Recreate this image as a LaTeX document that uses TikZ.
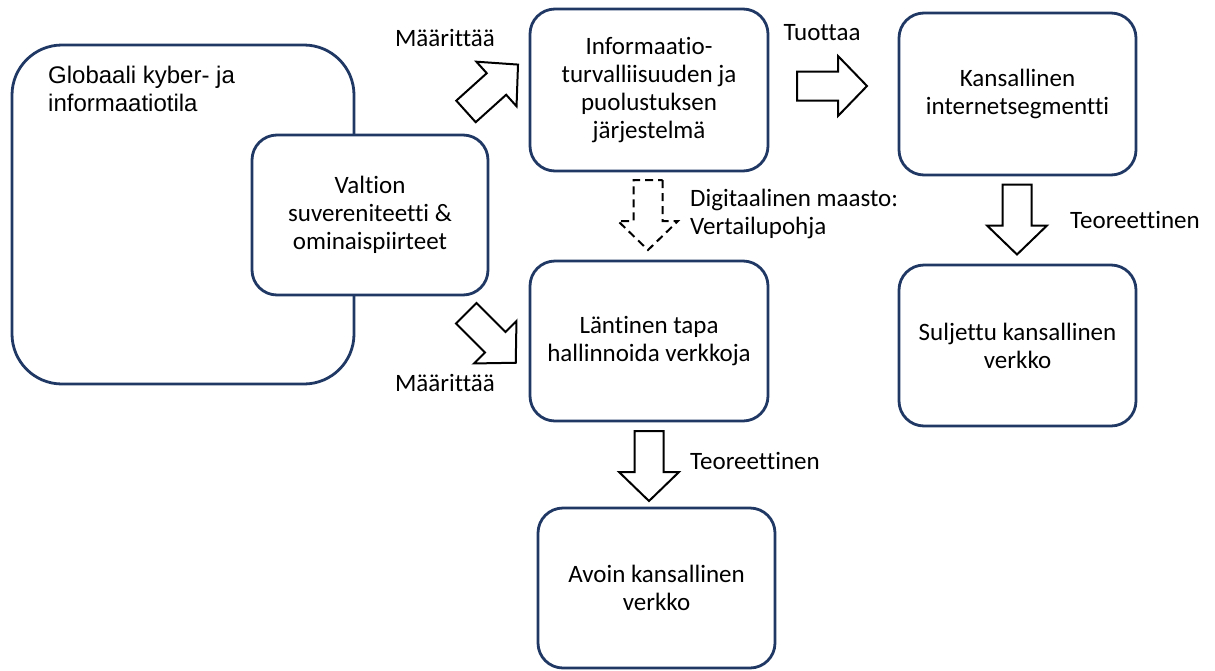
\documentclass[tikz,border=0pt]{standalone}
\usepackage{fontspec}
\setmainfont{Carlito}[Ligatures=CommonOff]
\newfontfamily\arialfont{Liberation Sans}
\definecolor{boxblue}{RGB}{31,56,100}
\tikzset{
  box/.style={draw=boxblue, line width=2.8pt, rounded corners=25pt, fill=white,
    align=center, inner sep=0pt, font=\fontsize{25}{28}\selectfont},
  lbl/.style={inner sep=0pt, font=\fontsize{25}{28}\selectfont},
  barrow/.style={draw=black, line width=2pt, fill=white, line join=miter},
  blockarrow/.pic={
    \path[barrow, pic actions] (-35,-14.5) -- (6,-14.5) -- (6,-30) -- (35,0) -- (6,30) -- (6,14.5) -- (-35,14.5) -- cycle;
  }
}
\begin{document}
\begin{tikzpicture}[x=1pt, y=-1pt]
\useasboundingbox (0,0) rectangle (1215,670);
% global box
\node[draw=boxblue, line width=2.8pt, rounded corners=50pt, minimum width=342pt, minimum height=339pt, inner sep=0pt] (glob) at (183,214.5) {};
\node[anchor=north west, align=left, inner sep=0pt, font=\arialfont\fontsize{24}{28}\selectfont] (globt) at (48,66) {Globaali kyber- ja\\informaatiotila};
% boxes
\node[box, minimum width=236pt, minimum height=160pt] (valt) at (370,215) {Valtion\\suvereniteetti \&\\ominaispiirteet};
\node[box, minimum width=238pt, minimum height=162pt] (info) at (649,90) {Informaatio-\\turvalliisuuden ja\\puolustuksen\\järjestelmä};
\node[box, minimum width=237pt, minimum height=162pt] (kans) at (1017.5,94) {Kansallinen\\internetsegmentti};
\node[box, minimum width=238pt, minimum height=160pt] (lant) at (649,341) {Läntinen tapa\\hallinnoida verkkoja};
\node[box, minimum width=237pt, minimum height=161pt] (sulj) at (1017.5,345.5) {Suljettu kansallinen\\verkko};
\node[box, minimum width=237pt, minimum height=160pt] (avoin) at (656.5,588) {Avoin kansallinen\\verkko};
% block arrows
\pic[rotate=42] at (492,88) {blockarrow};
\pic[rotate=-45] at (491,338) {blockarrow};
\pic at (832,86) {blockarrow};
\pic[rotate=-90] at (1017,219.5) {blockarrow};
\pic[rotate=-90] at (649,466) {blockarrow};
\pic[rotate=-90, dash pattern=on 8pt off 5pt] at (648,215) {blockarrow};
% labels
\node[lbl] (m1) at (445,38) {Määrittää};
\node[lbl] (m2) at (445,383) {Määrittää};
\node[lbl] (tuo) at (822,33) {Tuottaa};
\node[lbl, anchor=west, align=left] (dig) at (690,214) {Digitaalinen maasto:\\Vertailupohja};
\node[lbl, anchor=west] (teo1) at (1070,220) {Teoreettinen};
\node[lbl, anchor=west] (teo2) at (690,461) {Teoreettinen};
\end{tikzpicture}
\end{document}
